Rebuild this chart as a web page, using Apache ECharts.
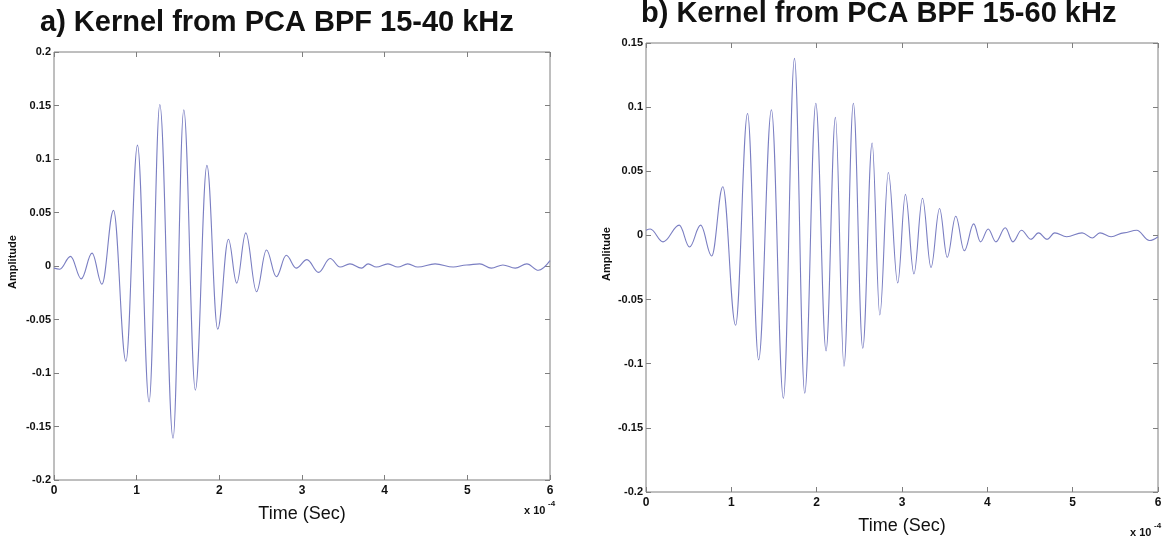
<!DOCTYPE html>
<html>
<head>
<meta charset="utf-8">
<script src="https://cdn.jsdelivr.net/npm/echarts@6/dist/echarts.min.js"></script>
<style>
html,body{margin:0;padding:0;background:#fff;}
#main{width:1166px;height:542px;}
</style>
</head>
<body>
<div id="main"></div>
<script>
// time in units of 1e-4 s (peaks and troughs)
var timeA = [0, 0.07, 0.20, 0.33, 0.46, 0.58, 0.72, 0.87, 1.01, 1.15, 1.28, 1.44, 1.57, 1.71, 1.85, 1.98,
    2.11, 2.21, 2.32, 2.45, 2.57, 2.69, 2.81, 2.93, 3.06, 3.20, 3.34, 3.46, 3.58, 3.72, 3.80, 3.90,
    4.04, 4.16, 4.28, 4.40, 4.61, 4.83, 4.99, 5.15, 5.29, 5.43, 5.58, 5.72, 5.86, 6.0];
var ampA = [-0.002, -0.003, 0.009, -0.012, 0.012, -0.017, 0.052, -0.089, 0.113, -0.127, 0.151, -0.161, 0.146, -0.116, 0.094, -0.059,
    0.025, -0.016, 0.031, -0.024, 0.015, -0.010, 0.010, -0.002, 0.006, -0.006, 0.007, -0.001, 0.002, -0.002, 0.002, -0.001,
    0.002, -0.001, 0.002, -0.001, 0.002, -0.001, 0.001, 0.002, -0.002, 0.001, -0.002, 0.002, -0.004, 0.005];

var timeB = [0, 0.05, 0.20, 0.39, 0.51, 0.64, 0.77, 0.90, 1.05, 1.19, 1.32, 1.47, 1.61, 1.74, 1.86, 1.99,
    2.11, 2.22, 2.32, 2.43, 2.54, 2.65, 2.74, 2.84, 2.95, 3.04, 3.14, 3.24, 3.34, 3.44, 3.53, 3.63,
    3.73, 3.84, 3.92, 4.01, 4.10, 4.21, 4.30, 4.40, 4.51, 4.60, 4.70, 4.79, 4.93, 5.11, 5.23, 5.32,
    5.45, 5.60, 5.75, 5.90, 6.0];
var ampB = [0.004, 0.005, -0.005, 0.008, -0.009, 0.008, -0.016, 0.038, -0.070, 0.095, -0.097, 0.098, -0.127, 0.138, -0.123, 0.103,
    -0.090, 0.092, -0.102, 0.103, -0.088, 0.072, -0.062, 0.049, -0.037, 0.032, -0.030, 0.029, -0.025, 0.021, -0.017, 0.015,
    -0.012, 0.009, -0.005, 0.005, -0.005, 0.006, -0.005, 0.004, -0.003, 0.002, -0.003, 0.002, -0.001, 0.002, -0.002, 0.002,
    -0.001, 0.002, 0.004, -0.004, -0.001];

var titleA = 'a) Kernel from PCA BPF 15-40 kHz';
var titleB = 'b) Kernel from PCA BPF 15-60 kHz';
var xTicks = [0, 6, 1];          // min, max, interval (x 1e-4 s)
var yTicksA = [-0.2, 0.2, 0.05];
var yTicksB = [-0.2, 0.15, 0.05];

var FONT = 'Liberation Sans, Arial, sans-serif';
var lineColor = '#7a7ec2';
var frameColor = '#7f7f7f';

function pairs(xs, ys) {
    return xs.map(function (x, i) { return [x, ys[i]]; });
}

function $extend(a, b) {
    var o = {}, k;
    for (k in a) o[k] = a[k];
    for (k in b) o[k] = b[k];
    return o;
}

function xAxes(gi) {
    var base = {
        type: 'value', gridIndex: gi, min: xTicks[0], max: xTicks[1], interval: xTicks[2],
        axisLine: {show: false, onZero: false}, splitLine: {show: false},
        axisTick: {inside: true, length: 5, lineStyle: {color: frameColor}}
    };
    var bottom = $extend(base, {
        position: 'bottom',
        axisLabel: {color: '#111', fontFamily: FONT, fontWeight: 'bold', fontSize: 12, margin: 5},
        name: 'Time (Sec)', nameLocation: 'middle', nameGap: 25,
        nameTextStyle: {color: '#111', fontFamily: FONT, fontSize: 18}
    });
    var top = $extend(base, {position: 'top', axisLabel: {show: false}});
    return [bottom, top];
}

function yAxes(gi, t) {
    var base = {
        type: 'value', gridIndex: gi, min: t[0], max: t[1], interval: t[2],
        axisLine: {show: false, onZero: false}, splitLine: {show: false},
        axisTick: {inside: true, length: 5, lineStyle: {color: frameColor}}
    };
    var left = $extend(base, {
        position: 'left',
        axisLabel: {color: '#111', fontFamily: FONT, fontWeight: 'bold', fontSize: 11, margin: 3}
    });
    var right = $extend(base, {position: 'right', axisLabel: {show: false}});
    return [left, right];
}

// rotated "Amplitude" label, centred at (x, y)
function ampLabel(x, y) {
    return {
        type: 'text', x: x, y: y, rotation: Math.PI / 2,
        style: {text: 'Amplitude', fill: '#111', font: 'bold 11px ' + FONT, align: 'center', verticalAlign: 'middle'}
    };
}

var chart = echarts.init(document.getElementById('main'), null, {renderer: 'canvas'});

var option = {
    backgroundColor: '#fff',
    animation: false,
    grid: [
        {left: 54, top: 52, width: 496, height: 428, show: true, borderColor: frameColor, borderWidth: 1},
        {left: 646, top: 43, width: 512, height: 449, show: true, borderColor: frameColor, borderWidth: 1}
    ],
    xAxis: xAxes(0).concat(xAxes(1)),
    yAxis: yAxes(0, yTicksA).concat(yAxes(1, yTicksB)),
    series: [
        {
            type: 'line', xAxisIndex: 0, yAxisIndex: 0, data: pairs(timeA, ampA),
            showSymbol: false, smooth: 0.38, smoothMonotone: 'x',
            lineStyle: {color: lineColor, width: 1.1}
        },
        {
            type: 'line', xAxisIndex: 2, yAxisIndex: 2, data: pairs(timeB, ampB),
            showSymbol: false, smooth: 0.38, smoothMonotone: 'x',
            lineStyle: {color: lineColor, width: 1.1}
        }
    ],
    graphic: [
        {type: 'text', left: 40, top: 8, style: {text: titleA, fill: '#111', font: 'bold 29px ' + FONT}},
        {type: 'text', left: 641, top: -1, style: {text: titleB, fill: '#111', font: 'bold 29px ' + FONT}},
        ampLabel(13, 262),
        ampLabel(607, 254),
        {type: 'text', left: 524, top: 505, style: {text: 'x 10', fill: '#111', font: 'bold 11px ' + FONT}},
        {type: 'text', left: 548, top: 500, style: {text: '-4', fill: '#111', font: 'bold 8px ' + FONT}},
        {type: 'text', left: 1130, top: 527, style: {text: 'x 10', fill: '#111', font: 'bold 11px ' + FONT}},
        {type: 'text', left: 1154, top: 522, style: {text: '-4', fill: '#111', font: 'bold 8px ' + FONT}}
    ]
};

chart.setOption(option);
</script>
</body>
</html>
